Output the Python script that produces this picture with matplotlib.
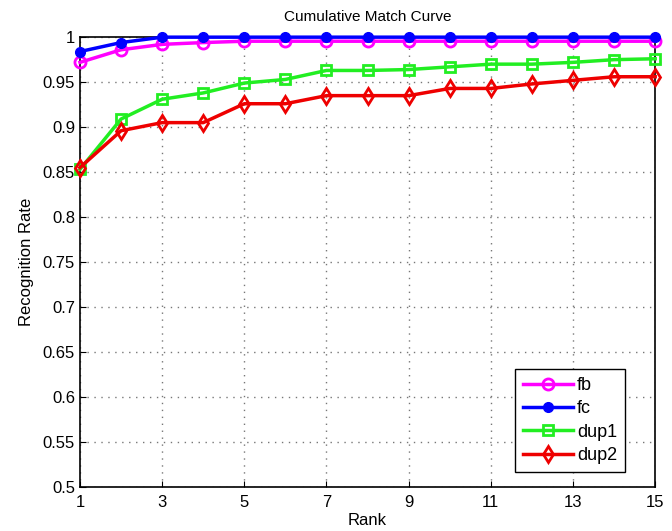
import matplotlib
matplotlib.use("Agg")
import matplotlib.pyplot as plt
import numpy as np

plt.rcParams['font.family'] = ['Liberation Sans', 'DejaVu Sans']

rank = np.arange(1, 16)
fb = [0.972, 0.986, 0.992, 0.994, 0.9955, 0.9955, 0.9955, 0.9955, 0.9955, 0.9955, 0.9955, 0.9955, 0.9955, 0.9955, 0.9955]
fc = [0.984, 0.994, 1.0, 1.0, 1.0, 1.0, 1.0, 1.0, 1.0, 1.0, 1.0, 1.0, 1.0, 1.0, 1.0]
dup1 = [0.853, 0.909, 0.931, 0.938, 0.949, 0.953, 0.963, 0.963, 0.964, 0.967, 0.970, 0.970, 0.972, 0.975, 0.976]
dup2 = [0.855, 0.896, 0.905, 0.905, 0.926, 0.926, 0.935, 0.935, 0.935, 0.943, 0.943, 0.948, 0.952, 0.956, 0.956]

xticks = [1, 3, 5, 7, 9, 11, 13, 15]
yticks = [0.5, 0.55, 0.6, 0.65, 0.7, 0.75, 0.8, 0.85, 0.9, 0.95, 1.0]
ylabels = ['0.5', '0.55', '0.6', '0.65', '0.7', '0.75', '0.8', '0.85', '0.9', '0.95', '1']

fig = plt.figure(figsize=(6.72, 5.31), dpi=100)
ax = fig.add_axes([0.119, 0.083, 0.856, 0.847])

# lines
ax.plot(rank, fb, color='#ff00ff', lw=2.5, marker='o', ms=8, mfc='none', mew=2, label='fb', clip_on=False, zorder=4)
ax.plot(rank, fc, color='#0000ff', lw=2.5, marker='o', ms=7, mfc='#0000ff', label='fc', clip_on=False, zorder=5)
ax.plot(rank, dup1, color='#22ee22', lw=2.5, marker='s', ms=7, mfc='none', mew=2, label='dup1', clip_on=False, zorder=3)
ax.plot(rank, dup2, color='#ee0000', lw=2.5, marker='d', ms=8, mfc='none', mew=2, label='dup2', clip_on=False, zorder=3)

ax.set_xlim(1, 15)
ax.set_ylim(0.5, 1.0)
ax.set_xticks(xticks)
ax.set_yticks(yticks)
ax.set_yticklabels(ylabels)
ax.tick_params(direction='in', labelsize=12, length=4)
ax.tick_params(axis='x', pad=6)
ax.grid(True, color='#777777', linestyle=(0, (1, 4)), linewidth=1.0)
for s in ax.spines.values():
    s.set_linewidth(1.2)

ax.set_title('Cumulative Match Curve', fontsize=11, pad=12)
ax.set_xlabel('Rank', fontsize=12, labelpad=2)
ax.set_ylabel('Recognition Rate', fontsize=12, labelpad=6)

leg = ax.legend(loc='lower right', bbox_to_anchor=(0.948, 0.033), borderaxespad=0, fancybox=False, edgecolor='black',
                fontsize=13, markerscale=1.0, handlelength=2.8, borderpad=0.45, labelspacing=0.35, handletextpad=0.2, numpoints=1)
leg.get_frame().set_linewidth(1.0)
leg.get_frame().set_alpha(1)

plt.savefig('out.png', dpi=100)
